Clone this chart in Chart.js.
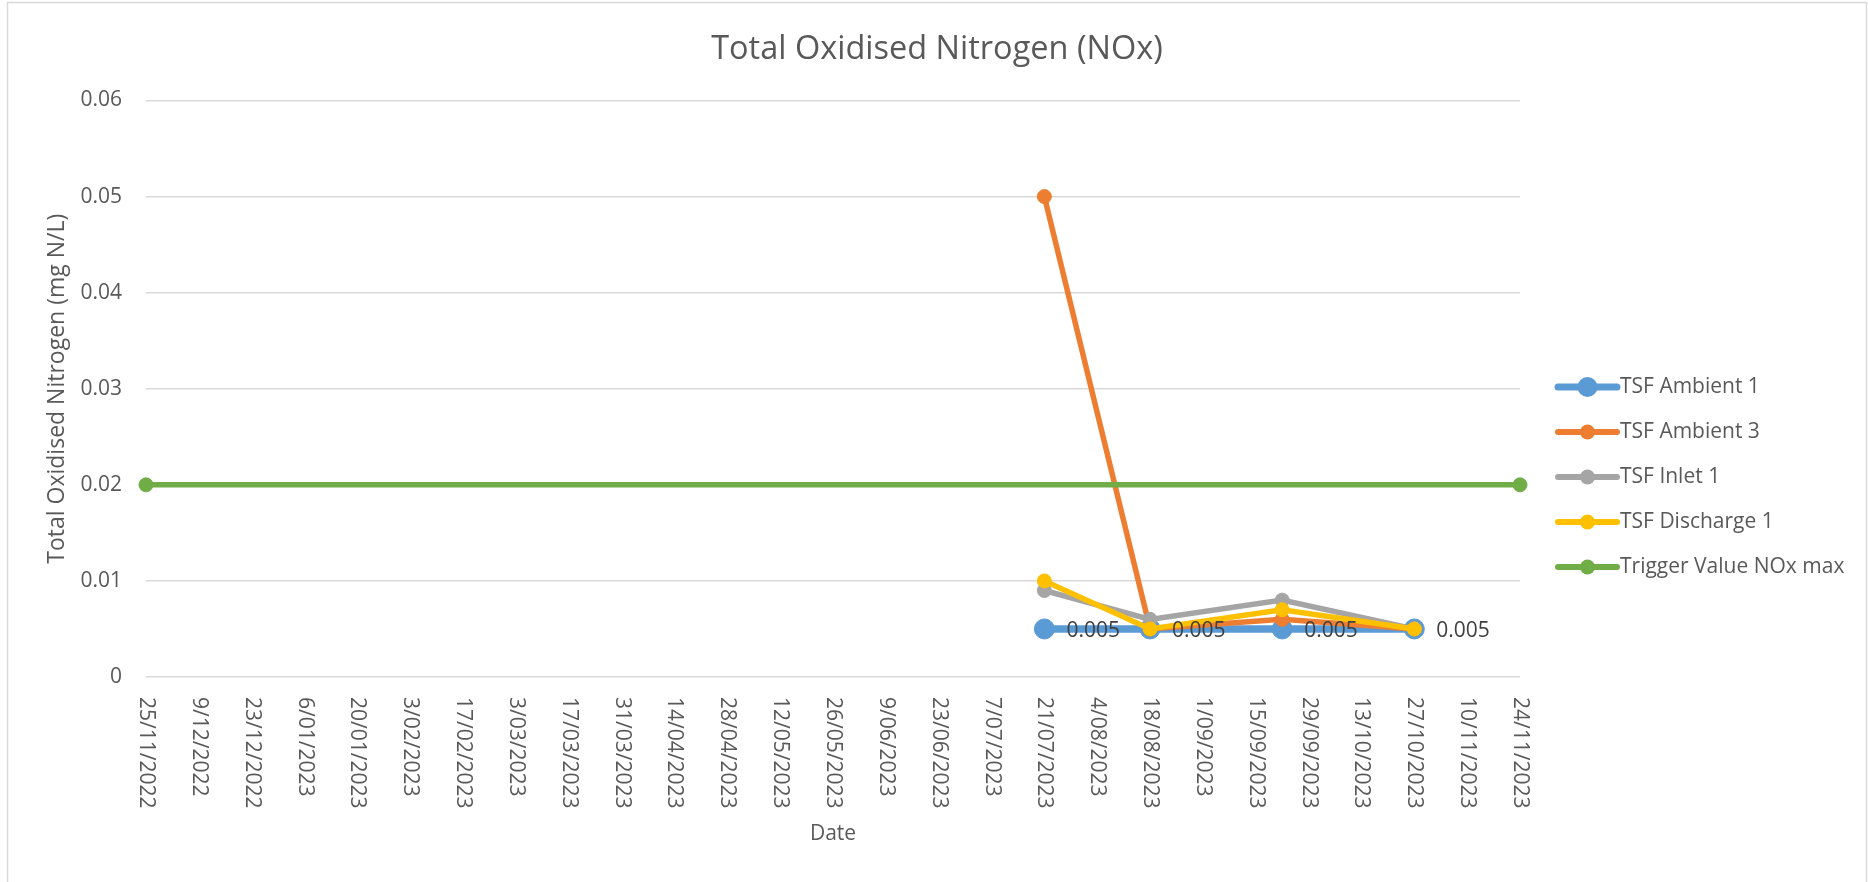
<!DOCTYPE html>
<html>
<head>
<meta charset="utf-8">
<script src="https://cdn.jsdelivr.net/npm/chart.js@4.4.0/dist/chart.umd.min.js"></script>
<style>
  html, body { margin: 0; padding: 0; background: #ffffff; }
  canvas { display: block; }
</style>
</head>
<body>
<canvas id="c" width="1868" height="882"></canvas>
<script>
// ---- Data ----
const chartTitle = 'Total Oxidised Nitrogen (NOx)';
const yAxisTitle = 'Total Oxidised Nitrogen (mg N/L)';
const xAxisTitle = 'Date';
const sampleDates = ['21/07/2023', '18/08/2023', '22/09/2023', '27/10/2023'];
const tsfAmbient1 = [0.005, 0.005, 0.005, 0.005];
const tsfAmbient3 = [0.05, 0.005, 0.006, 0.005];
const tsfInlet1 = [0.009, 0.006, 0.008, 0.005];
const tsfDischarge1 = [0.01, 0.005, 0.007, 0.005];
const triggerDates = ['25/11/2022', '24/11/2023'];
const triggerNOxMax = [0.02, 0.02];
const xAxisStart = '25/11/2022';
const xAxisEnd = '24/11/2023';
const xTickStepDays = 14;
const yMin = 0, yMax = 0.06, yStep = 0.01;
const seriesNames = ['TSF Ambient 1', 'TSF Ambient 3', 'TSF Inlet 1', 'TSF Discharge 1', 'Trigger Value NOx max'];

// ---- helpers ----
function dayNum(s) {
  const [d, m, y] = s.split('/').map(Number);
  return Math.round(Date.UTC(y, m - 1, d) / 86400000);
}
const day0 = dayNum(xAxisStart);
function relDay(s) { return dayNum(s) - day0; }
function fmtDay(v) {
  const dt = new Date((day0 + Math.round(v)) * 86400000);
  return dt.getUTCDate() + '/' + String(dt.getUTCMonth() + 1).padStart(2, '0') + '/' + dt.getUTCFullYear();
}
function pts(dates, vals) { return dates.map((d, i) => ({ x: relDay(d), y: vals[i] })); }

const FONT = "'Open Sans', 'DejaVu Sans', sans-serif";
const TXT = '#595959';
const colors = ['#5B9BD5', '#ED7D31', '#A5A5A5', '#FFC000', '#70AD47'];

function ds(i, data, lw, r, order) {
  return {
    label: seriesNames[i], data: data,
    borderColor: colors[i], backgroundColor: colors[i],
    pointBackgroundColor: colors[i], pointBorderColor: colors[i],
    borderWidth: lw, pointRadius: r, pointHoverRadius: r, pointBorderWidth: 1,
    tension: 0, clip: false, order: order
  };
}

const datasets = [
  ds(0, pts(sampleDates, tsfAmbient1), 7.5, 10, 5),
  ds(1, pts(sampleDates, tsfAmbient3), 5.5, 7, 4),
  ds(2, pts(sampleDates, tsfInlet1), 5.5, 7, 3),
  ds(3, pts(sampleDates, tsfDischarge1), 5.5, 7, 2),
  ds(4, pts(triggerDates, triggerNOxMax), 5.5, 7, 1)
];

const decorPlugin = {
  id: 'decor',
  beforeDraw(chart) {
    const ctx = chart.ctx;
    ctx.save();
    ctx.fillStyle = '#ffffff';
    ctx.fillRect(0, 0, chart.width, chart.height);
    ctx.strokeStyle = '#D9D9D9';
    ctx.lineWidth = 1.5;
    ctx.strokeRect(7.5, 2.5, 1859, 920);
    ctx.restore();
  },
  afterDatasetsDraw(chart) {
    const ctx = chart.ctx;
    // data labels for TSF Ambient 1
    const meta = chart.getDatasetMeta(0);
    ctx.save();
    ctx.font = '21px ' + FONT;
    ctx.fillStyle = '#404040';
    ctx.textAlign = 'left';
    ctx.textBaseline = 'middle';
    meta.data.forEach((el, i) => {
      ctx.fillText(String(tsfAmbient1[i]), el.x + 22, el.y + 2);
    });
    ctx.restore();
  },
  afterDraw(chart) {
    const ctx = chart.ctx;
    const xs = chart.scales.x;
    // rotated x tick labels (reading top to bottom)
    ctx.save();
    ctx.font = '21px ' + FONT;
    ctx.fillStyle = TXT;
    ctx.textAlign = 'left';
    ctx.textBaseline = 'middle';
    xs.ticks.forEach(t => {
      const px = xs.getPixelForValue(t.value);
      ctx.save();
      ctx.translate(px, xs.top + 20);
      ctx.rotate(Math.PI / 2);
      ctx.fillText(fmtDay(t.value), 0, 0);
      ctx.restore();
    });
    ctx.restore();
    // legend
    ctx.save();
    const lx0 = 1558, lx1 = 1617, tx = 1620;
    chart.data.datasets.forEach((d, i) => {
      const y = 387 + i * 45;
      ctx.strokeStyle = d.borderColor;
      ctx.lineWidth = i === 0 ? 7 : 6;
      ctx.lineCap = 'round';
      ctx.beginPath(); ctx.moveTo(lx0, y); ctx.lineTo(lx1, y); ctx.stroke();
      ctx.fillStyle = d.borderColor;
      ctx.beginPath(); ctx.arc((lx0 + lx1) / 2, y, i === 0 ? 10 : 7.5, 0, Math.PI * 2); ctx.fill();
      ctx.fillStyle = TXT;
      ctx.font = '21px ' + FONT;
      ctx.textAlign = 'left';
      ctx.textBaseline = 'middle';
      ctx.fillText(d.label, tx, y);
    });
    ctx.restore();
  }
};

new Chart(document.getElementById('c'), {
  type: 'line',
  data: { datasets: datasets },
  plugins: [decorPlugin],
  options: {
    responsive: false,
    animation: false,
    devicePixelRatio: 1,
    layout: { padding: { left: 6, right: 0, top: 0, bottom: 35.4 } },
    plugins: {
      legend: { display: false },
      tooltip: { enabled: false },
      title: {
        display: true, text: chartTitle, color: TXT,
        font: { family: FONT, size: 32.5, weight: 'normal' },
        padding: { top: 30.5, bottom: 31 }
      }
    },
    scales: {
      x: {
        type: 'linear', position: 'bottom',
        min: 0, max: relDay(xAxisEnd),
        grid: { display: false },
        border: { display: false },
        ticks: { display: false, stepSize: xTickStepDays, autoSkip: false, maxTicksLimit: 100 },
        title: { display: true, text: xAxisTitle, color: TXT, font: { family: FONT, size: 21 }, padding: 0 },
        afterFit(s) { s.height = 169.6; }
      },
      y: {
        position: 'left',
        min: yMin, max: yMax,
        grid: { color: '#D9D9D9', lineWidth: 1.5, drawTicks: false },
        border: { display: false },
        ticks: {
          stepSize: yStep, color: TXT, padding: 24,
          font: { family: FONT, size: 21 },
          callback: v => String(+v.toFixed(2))
        },
        title: { display: true, text: yAxisTitle, color: TXT, font: { family: FONT, size: 23 }, padding: { top: 37.2, bottom: 0 } },
        afterFit(s) { s.width = 140; }
      },
      yRight: {
        position: 'right',
        display: true,
        grid: { display: false },
        border: { display: false },
        ticks: { display: false },
        afterFit(s) { s.width = 348; }
      }
    }
  }
});
</script>
</body>
</html>
